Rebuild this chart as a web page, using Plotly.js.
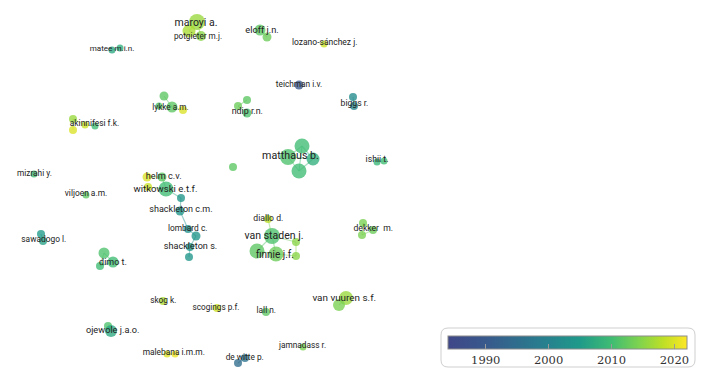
<!DOCTYPE html>
<html>
<head>
<meta charset="utf-8">
<script src="https://cdn.plot.ly/plotly-3.0.1.min.js"></script>
<style>html,body{margin:0;padding:0;background:#fff}#chart{width:706px;height:380px}</style>
</head>
<body>
<div id="chart"></div>
<script>
// ---- DATA ----
const nodeX = [197,189,201, 260,267, 324, 112,120, 299, 353,354, 164,172,183,159, 247,238,247, 73,73,85,95, 34, 86, 147,162, 166,148, 181,180, 233, 302,288,313,299, 377,384, 268, 272,257,276,296,296, 363,373,362, 346,339, 303, 266, 217, 163, 188,196, 190,189, 41,43, 104,113,100, 108,111, 167,175, 238,245];
const nodeY = [22,31,36, 30,37, 44, 50,48, 85, 97,106, 96,107,110,106, 100,106,113, 119,130,125,126, 174, 195, 177,177, 189,187, 198,211, 167, 146,157,159,171, 162,161, 219, 236,251,254,242,256, 223,230,235, 298,305, 347, 312, 308, 301, 229,236, 247,257, 234,241, 253,262,266, 326,331, 354,354, 363,358];
const nodeSize = [16,13,10, 11,9, 7, 7,7, 9, 8,8, 9,11,8,7, 8,8,9, 8,8,7,7, 7, 7, 9,9, 15,8, 8,9, 8, 15,16,13,15, 7,7, 8, 16,15,15,8,8, 8,8,8, 14,12, 7, 8, 8, 8, 8,9, 8,8, 8,8, 11,11,8, 8,12, 7,7, 8,8];
const nodeYear = [2016,2017,2015, 2012,2013, 2019, 2007,2008, 1989, 2002,2001, 2012,2012,2020,2011, 2012,2013,2011, 2016,2020,2019,2010, 2010, 2012, 2020,2012, 2010,2019, 2004,2004, 2012, 2010,2011,2008,2010, 2009,2010, 2018, 2011,2012,2013,2015,2015, 2014,2013,2014, 2016,2014, 2014, 2012, 2019, 2017, 2003,2004, 2004,2004, 2005,2006, 2011,2010,2010, 2011,2007, 2020,2021, 1995,1996];
const edgeFrom = [0,0,1, 3, 6, 9, 11,12,14, 15,16, 18,18,20, 24,25,26, 26,28,29,52,53,54, 31,31,32,33,31,32, 35, 37,38,38,38,39,40,41, 43,44,43, 46, 56, 58,58,59, 61, 63, 65];
const edgeTo   = [1,2,2, 4, 7, 10, 12,13,12, 16,17, 19,20,21, 25,26,27, 28,29,52,53,54,55, 32,33,34,34,34,33, 36, 38,39,40,41,40,42,42, 44,45,45, 47, 57, 59,60,60, 62, 64, 66];
const labelText = ["maroyi a.","potgieter m.j.","eloff j.n.","lozano-sánchez j.","matee m.i.n.","teichman i.v.","biggs r.","lykke a.m.","ndip r.n.","akinnifesi f.k.","mizrahi y.","viljoen a.m.","helm c.v.","witkowski e.t.f.","shackleton c.m.","matthaus b.","ishii t.","diallo d.","van staden j.","finnie j.f.","dekker  m.","lombard c.","shackleton s.","sawadogo l.","dimo t.","skog k.","scogings p.f.","lall n.","van vuuren s.f.","ojewole j.a.o.","jamnadass r.","malebana i.m.m.","de witte p."];
const labelX = [196,198,262,324.7,112,299,354.5,170.5,247.3,94.5,34.5,86,163.7,165.5,181,290.5,377,268.3,274,275,373.3,187.7,190.5,43.8,113,163.3,216,266.3,344.3,112.7,302.5,173.8,244.7];
const labelY = [23,37,31,43,49,85,104,108,111.7,124.3,174.3,194.3,176.7,190,210,156.7,160,219,236.7,255,229.3,228.7,246.7,240,262.7,300.7,307.7,310.7,298.3,330.7,346,353.3,357.7];
const labelSize = [10.5,8.2,9.3,8.5,8.1,8.3,8.6,8.2,8.9,8.4,8.3,8.4,9.1,9.6,9.0,10.7,8.7,8.6,10.5,10,8.6,8.4,9.1,8.4,9.0,8.3,8.2,8.3,9.9,9.2,8.3,8.4,8.3];
const yearMin = 1984, yearMax = 2022;
const yearTicks = [1990, 2000, 2010, 2020];

// ---- STYLE ----
const cscale = [[0,'#3f4788'],[0.16,'#38598c'],[0.42,'#26828e'],[0.55,'#1f9a8a'],[0.684,'#3fbc73'],[0.8,'#7fd34e'],[0.9,'#bddf26'],[1,'#fde725']];
function hex2rgb(h){return [parseInt(h.slice(1,3),16),parseInt(h.slice(3,5),16),parseInt(h.slice(5,7),16)];}
function colorFor(year){
  let t=(year-yearMin)/(yearMax-yearMin); t=Math.max(0,Math.min(1,t));
  for(let i=1;i<cscale.length;i++){
    if(t<=cscale[i][0]){
      const a=cscale[i-1], b=cscale[i]; const f=(t-a[0])/(b[0]-a[0]);
      const ca=hex2rgb(a[1]), cb=hex2rgb(b[1]);
      return 'rgb('+ca.map((v,k)=>Math.round(v+(cb[k]-v)*f)).join(',')+')';
    }
  }
  return cscale[cscale.length-1][1];
}

const traces = [];
for(let i=0;i<edgeFrom.length;i++){
  const a=edgeFrom[i], b=edgeTo[i];
  traces.push({type:'scatter',mode:'lines',x:[nodeX[a],nodeX[b]],y:[nodeY[a],nodeY[b]],
    line:{color:colorFor((nodeYear[a]+nodeYear[b])/2),width:1.2},opacity:0.45,hoverinfo:'skip',showlegend:false});
}
traces.push({type:'scatter',mode:'markers',x:nodeX,y:nodeY,showlegend:false,
  marker:{size:nodeSize,color:nodeYear,cmin:yearMin,cmax:yearMax,colorscale:cscale,opacity:0.78,line:{width:0},
    showscale:true,
    colorbar:{orientation:'h',x:567.5/706,xanchor:'center',y:1-336/380,yanchor:'top',len:239/706,lenmode:'fraction',
      thickness:13,xpad:0,ypad:0,outlinewidth:1,outlinecolor:'#8c8c8c',
      tickvals:yearTicks,ticks:'inside',ticklen:5,tickcolor:'#9a9a9a',tickwidth:1,
      tickfont:{family:'DejaVu Serif',size:11.5,color:'#333'}}}});
traces.push({type:'scatter',mode:'text',x:labelX,y:labelY,text:labelText,textposition:'middle center',
  textfont:{family:'Roboto',size:labelSize,color:'#222'},hoverinfo:'skip',showlegend:false});

const r=7, x0=441, x1=695, y0=328, y1=367;
const boxPath = `M ${x0+r},${y0} L ${x1-r},${y0} Q ${x1},${y0} ${x1},${y0+r} L ${x1},${y1-r} Q ${x1},${y1} ${x1-r},${y1} L ${x0+r},${y1} Q ${x0},${y1} ${x0},${y1-r} L ${x0},${y0+r} Q ${x0},${y0} ${x0+r},${y0} Z`;

const layout = {
  width:706,height:380,margin:{l:0,r:0,t:0,b:0},paper_bgcolor:'#fff',plot_bgcolor:'#fff',
  xaxis:{range:[0,706],visible:false,fixedrange:true},
  yaxis:{range:[380,0],visible:false,fixedrange:true},
  shapes:[{type:'path',path:boxPath,xref:'x',yref:'y',line:{color:'#cfcfcf',width:1},fillcolor:'#fff',layer:'below'}],
  showlegend:false
};
Plotly.newPlot('chart',traces,layout,{displayModeBar:false,staticPlot:true});
</script>
</body>
</html>
